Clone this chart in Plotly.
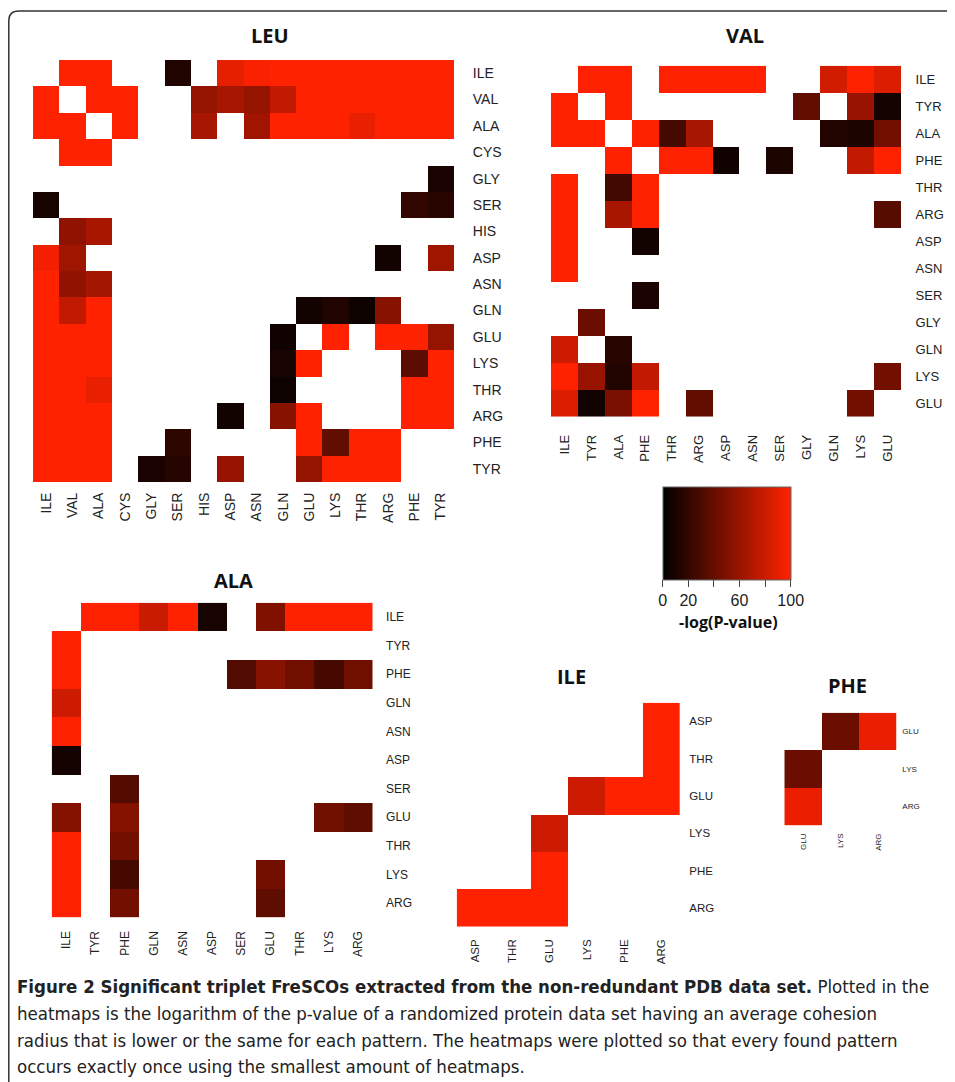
import plotly.graph_objects as go

N = None
PAGE_OFF = 8           # browser body margin
W, H = 955 - PAGE_OFF, 1082 - PAGE_OFF

# ---------------- data ----------------
leu_cats = ["ILE", "VAL", "ALA", "CYS", "GLY", "SER", "HIS", "ASP", "ASN", "GLN", "GLU", "LYS", "THR", "ARG", "PHE", "TYR"]
leu_ILE = [N, 100, 100, N, N, 12, N, 90, 98, 100, 100, 100, 100, 100, 100, 100]
leu_VAL = [100, N, 100, 100, N, N, 58, 65, 58, 76, 100, 100, 100, 100, 100, 100]
leu_ALA = [100, 100, N, 100, N, N, 65, N, 63, 100, 100, 100, 91, 100, 100, 100]
leu_CYS = [N, 100, 100, N, N, N, N, N, N, N, N, N, N, N, N, N]
leu_GLY = [N, N, N, N, N, N, N, N, N, N, N, N, N, N, N, 10]
leu_SER = [9, N, N, N, N, N, N, N, N, N, N, N, N, N, 20, 16]
leu_HIS = [N, 56, 66, N, N, N, N, N, N, N, N, N, N, N, N, N]
leu_ASP = [95, 62, N, N, N, N, N, N, N, N, N, N, N, 7, N, 62]
leu_ASN = [100, 56, 64, N, N, N, N, N, N, N, N, N, N, N, N, N]
leu_GLN = [100, 76, 100, N, N, N, N, N, N, N, 7, 12, 5, 53, N, N]
leu_GLU = [100, 100, 100, N, N, N, N, N, N, 6, N, 100, N, 100, 100, 58]
leu_LYS = [100, 100, 100, N, N, N, N, N, N, 9, 100, N, N, N, 36, 100]
leu_THR = [100, 100, 91, N, N, N, N, N, N, 5, N, N, N, N, 100, 100]
leu_ARG = [100, 100, 100, N, N, N, N, 7, N, 53, 100, N, N, N, 100, 100]
leu_PHE = [100, 100, 100, N, N, 18, N, N, N, N, 100, 38, 100, 100, N, N]
leu_TYR = [100, 100, 100, N, 10, 15, N, 60, N, N, 58, 100, 100, 100, N, N]
leu_z = [leu_ILE, leu_VAL, leu_ALA, leu_CYS, leu_GLY, leu_SER, leu_HIS, leu_ASP,
         leu_ASN, leu_GLN, leu_GLU, leu_LYS, leu_THR, leu_ARG, leu_PHE, leu_TYR]

val_cats = ["ILE", "TYR", "ALA", "PHE", "THR", "ARG", "ASP", "ASN", "SER", "GLY", "GLN", "LYS", "GLU"]
val_ILE = [N, 100, 100, N, 100, 100, 100, 100, N, N, 82, 100, 86]
val_TYR = [100, N, 100, N, N, N, N, N, N, 38, N, 60, 8]
val_ALA = [100, 100, N, 100, 27, 65, N, N, N, N, 13, 11, 45]
val_PHE = [N, N, 100, N, 100, 100, 6, N, 11, N, N, 76, 100]
val_THR = [100, N, 26, 100, N, N, N, N, N, N, N, N, N]
val_ARG = [100, N, 66, 100, N, N, N, N, N, N, N, N, 34]
val_ASP = [100, N, N, 7, N, N, N, N, N, N, N, N, N]
val_ASN = [100, N, N, N, N, N, N, N, N, N, N, N, N]
val_SER = [N, N, N, 10, N, N, N, N, N, N, N, N, N]
val_GLY = [N, 42, N, N, N, N, N, N, N, N, N, N, N]
val_GLN = [80, N, 16, N, N, N, N, N, N, N, N, N, N]
val_LYS = [100, 60, 13, 76, N, N, N, N, N, N, N, N, 45]
val_GLU = [86, 7, 48, 100, N, 38, N, N, N, N, N, 45, N]
val_z = [val_ILE, val_TYR, val_ALA, val_PHE, val_THR, val_ARG, val_ASP,
         val_ASN, val_SER, val_GLY, val_GLN, val_LYS, val_GLU]

ala_cats = ["ILE", "TYR", "PHE", "GLN", "ASN", "ASP", "SER", "GLU", "THR", "LYS", "ARG"]
ala_ILE = [N, 100, 100, 79, 100, 9, N, 50, 100, 100, 100]
ala_TYR = [100, N, N, N, N, N, N, N, N, N, N]
ala_PHE = [100, N, N, N, N, N, 32, 53, 44, 27, 43]
ala_GLN = [80, N, N, N, N, N, N, N, N, N, N]
ala_ASN = [100, N, N, N, N, N, N, N, N, N, N]
ala_ASP = [8, N, N, N, N, N, N, N, N, N, N]
ala_SER = [N, N, 33, N, N, N, N, N, N, N, N]
ala_GLU = [52, N, 52, N, N, N, N, N, N, 43, 37]
ala_THR = [100, N, 45, N, N, N, N, N, N, N, N]
ala_LYS = [100, N, 27, N, N, N, N, 45, N, N, N]
ala_ARG = [100, N, 45, N, N, N, N, 37, N, N, N]
ala_z = [ala_ILE, ala_TYR, ala_PHE, ala_GLN, ala_ASN, ala_ASP,
         ala_SER, ala_GLU, ala_THR, ala_LYS, ala_ARG]

ile_cats = ["ASP", "THR", "GLU", "LYS", "PHE", "ARG"]
ile_ASP = [N, N, N, N, N, 100]
ile_THR = [N, N, N, N, N, 100]
ile_GLU = [N, N, N, 80, 100, 100]
ile_LYS = [N, N, 80, N, N, N]
ile_PHE = [N, N, 100, N, N, N]
ile_ARG = [100, 100, 100, N, N, N]
ile_z = [ile_ASP, ile_THR, ile_GLU, ile_LYS, ile_PHE, ile_ARG]

phe_cats = ["GLU", "LYS", "ARG"]
phe_GLU = [N, 42, 92]
phe_LYS = [42, N, N]
phe_ARG = [92, N, N]
phe_z = [phe_GLU, phe_LYS, phe_ARG]

colorbar_ticks = [0, 20, 40, 60, 80, 100]
colorbar_ticktext = ["0", "20", "", "60", "", "100"]

# ---------------- layout helpers (page pixel -> paper fraction) ----------------
def fx(px):
    return (px - PAGE_OFF) / W

def fy(py):
    return 1 - (py - PAGE_OFF) / H

LABEL_FONT = "Liberation Sans, Arial, sans-serif"
TITLE_FONT = "Open Sans, Lato, sans-serif"

panels = [
    dict(cats=leu_cats, z=leu_z, box=(33, 454, 60, 482), fs=14, ylen=15, xlen=4,
         title="LEU", tpos=(270, 36)),
    dict(cats=val_cats, z=val_z, box=(551, 901, 65.7, 416.7), fs=13, ylen=11, xlen=12,
         title="VAL", tpos=(745, 36)),
    dict(cats=ala_cats, z=ala_z, box=(51.7, 372.7, 602.7, 917.3), fs=12, ylen=10, xlen=8,
         title="ALA", tpos=(233, 580)),
    dict(cats=ile_cats, z=ile_z, box=(456.7, 680, 702.7, 926.7), fs=11.5, ylen=6, xlen=7,
         title="ILE", tpos=(571, 676)),
    dict(cats=phe_cats, z=phe_z, box=(784.3, 896.7, 712.7, 825.3), fs=8, ylen=3, xlen=4,
         title="PHE", tpos=(847, 686)),
]

fig = go.Figure()
annotations = []
for i, p in enumerate(panels, start=1):
    sfx = "" if i == 1 else str(i)
    fig.add_trace(go.Heatmap(
        z=p["z"], x=p["cats"], y=p["cats"],
        coloraxis="coloraxis",
        xaxis="x" + sfx, yaxis="y" + sfx,
        hoverongaps=False,
    ))
    x0, x1, y0, y1 = p["box"]
    common = dict(showgrid=False, zeroline=False, showline=False, type="category",
                  ticks="outside", tickcolor="rgba(0,0,0,0)",
                  tickfont=dict(family=LABEL_FONT, size=p["fs"], color="#222"),
                  fixedrange=True)
    fig.layout["xaxis" + sfx] = dict(
        domain=[fx(x0), fx(x1)], anchor="y" + sfx, side="bottom",
        tickangle=-90, ticklen=p["xlen"],
        categoryorder="array", categoryarray=p["cats"], **common)
    fig.layout["yaxis" + sfx] = dict(
        domain=[fy(y1), fy(y0)], anchor="x" + sfx, side="right",
        ticklen=p["ylen"], autorange="reversed",
        categoryorder="array", categoryarray=p["cats"], **common)
    annotations.append(dict(
        text="<b>%s</b>" % p["title"], x=fx(p["tpos"][0]), y=fy(p["tpos"][1]),
        xref="paper", yref="paper", showarrow=False, xanchor="center", yanchor="middle",
        font=dict(family=TITLE_FONT, size=20, color="#111")))

# colour bar title
annotations.append(dict(
    text="<b>-log(P-value)</b>", x=fx(728), y=fy(622), xref="paper", yref="paper",
    showarrow=False, xanchor="center", yanchor="middle",
    font=dict(family=TITLE_FONT, size=16, color="#111")))

# caption
caption_lines = [
    "<b>Figure 2 Significant triplet FreSCOs extracted from the non-redundant PDB data set.</b> Plotted in the",
    "heatmaps is the logarithm of the p-value of a randomized protein data set having an average cohesion",
    "radius that is lower or the same for each pattern. The heatmaps were plotted so that every found pattern",
    "occurs exactly once using the smallest amount of heatmaps.",
]
cap_y = [986, 1013, 1040, 1066]
for line, yy in zip(caption_lines, cap_y):
    annotations.append(dict(
        text=line, x=fx(15), y=fy(yy), xref="paper", yref="paper", showarrow=False,
        xanchor="left", yanchor="middle",
        font=dict(family="Liberation Sans Narrow, DejaVu Sans Condensed, Roboto Condensed, Open Sans, sans-serif",
                  size=18.5, color="#222")))

# frame with rounded top-left corner
r = 10
frame_path = "M {a},{b} L {a},{c} Q {a},{d} {e},{d} L {f},{d}".format(
    a=fx(8.8), b=fy(1090), c=fy(11 + r), d=fy(11), e=fx(8.8 + r), f=fx(970))

fig.update_layout(
    width=W, height=H,
    margin=dict(l=0, r=0, t=0, b=0),
    paper_bgcolor="white", plot_bgcolor="white",
    coloraxis=dict(
        cmin=0, cmax=100,
        colorscale=[[0, "#000000"], [1, "#FF2200"]],
        colorbar=dict(
            orientation="h",
            x=fx(726.7), xanchor="center",
            y=fy(486.7), yanchor="top",
            len=128 / W, lenmode="fraction",
            thickness=93, thicknessmode="pixels",
            xpad=0, ypad=0,
            outlinewidth=1, outlinecolor="#666",
            ticks="outside", ticklen=7, tickcolor="#444",
            tickvals=colorbar_ticks, ticktext=colorbar_ticktext,
            tickfont=dict(family=LABEL_FONT, size=16, color="#222"),
        ),
    ),
    annotations=annotations,
    shapes=[dict(type="path", path=frame_path, xref="paper", yref="paper",
                 line=dict(color="#333", width=1.5))],
    showlegend=False,
)

fig.write_html("out.html")
